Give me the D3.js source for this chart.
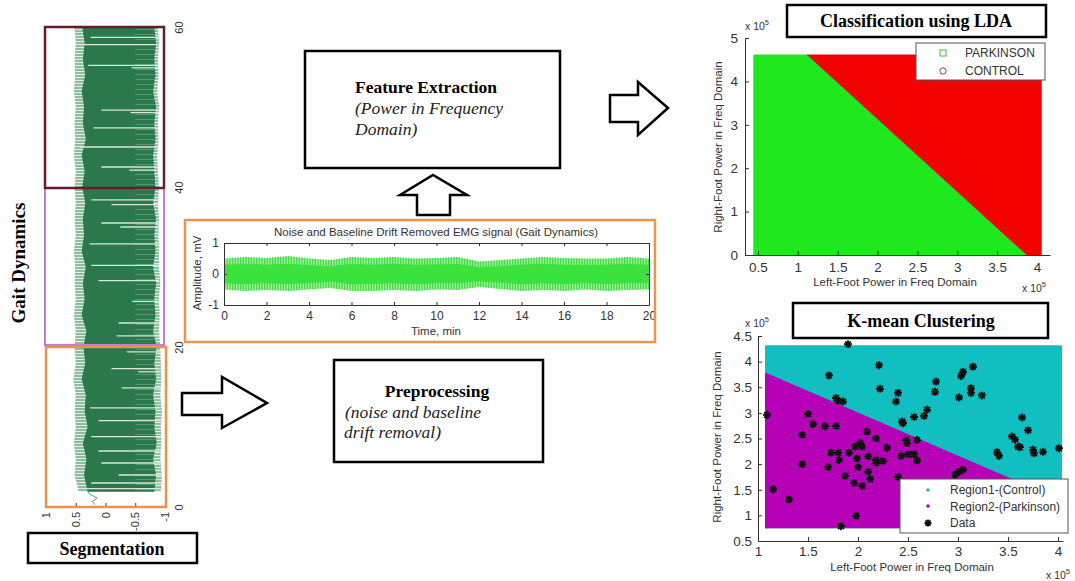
<!DOCTYPE html>
<html>
<head>
<meta charset="utf-8">
<script src="https://cdn.jsdelivr.net/npm/d3@7"></script>
<style>
    body { margin: 0; background: #fff; }
    svg { display: block; }
</style>
</head>
<body>
<div id="chart"></div>
<script>
// ---------- data ----------

// Segmentation panel: gait EMG envelope (minutes -> mV)
const segTimes   = [1.9, 4, 6, 8, 10, 12, 14, 16, 18, 20, 22, 24, 26, 28, 30, 32, 34, 36, 38, 40, 42, 44, 46, 48, 50, 52, 54, 56, 58, 60];
const segOuterHi = [0.45, 0.52, 0.5, 0.53, 0.5, 0.52, 0.5, 0.54, 0.5, 0.52, 0.5, 0.53, 0.5, 0.52, 0.51, 0.53, 0.5, 0.52, 0.5, 0.52, 0.5, 0.53, 0.51, 0.52, 0.5, 0.53, 0.51, 0.52, 0.5, 0.52];
const segInnerHi = [0.3, 0.36, 0.32, 0.38, 0.3, 0.35, 0.33, 0.4, 0.34, 0.37, 0.32, 0.4, 0.35, 0.38, 0.33, 0.4, 0.36, 0.38, 0.34, 0.39, 0.35, 0.4, 0.33, 0.38, 0.36, 0.4, 0.34, 0.38, 0.35, 0.39];
const segInnerLo = [-0.82, -0.85, -0.8, -0.86, -0.82, -0.84, -0.8, -0.85, -0.82, -0.86, -0.8, -0.84, -0.82, -0.85, -0.8, -0.84, -0.82, -0.85, -0.8, -0.84, -0.82, -0.8, -0.84, -0.82, -0.85, -0.8, -0.84, -0.82, -0.85, -0.82];
const segOuterLo = [-0.93, -0.95, -0.92, -0.94, -0.93, -0.95, -0.92, -0.94, -0.93, -0.92, -0.9, -0.91, -0.9, -0.92, -0.9, -0.9, -0.89, -0.9, -0.88, -0.9, -0.88, -0.87, -0.89, -0.88, -0.9, -0.87, -0.89, -0.88, -0.9, -0.88];
const segTailT   = [0.3, 0.7, 1.1, 1.5, 1.9];
const segTailAmp = [0.18, 0.22, 0.14, 0.24, 0.3];
// pale gaps in the trace: [minute, amplitude where the gap starts]
const segStripes = [[58.7, 0.25], [57.8, 0.4], [55.2, 0.29], [54.9, -0.44], [49.6, 0.07], [49.3, -0.42], [47.4, 0.2], [45.0, 0.43],
    [42.5, 0.07], [42.1, -0.4], [38.4, 0.24], [37.8, -0.1], [35.5, 0.07], [35.0, -0.25], [32.9, 0.27], [30.2, 0.24], [28.3, 0.12],
    [25.7, -0.45], [23.0, -0.22], [21.4, -0.19], [19.4, -0.36], [17.3, -0.1], [16.9, -0.55], [14.9, -0.27], [12.4, 0.26],
    [10.8, 0.12], [8.8, 0.24], [7.0, 0.12], [5.5, 0.07], [4.0, -0.22], [3.0, 0.24], [2.3, 0.4]];
const segTimeTicks = [0, 20, 40, 60];
const segAmpTicks  = [1, 0.5, 0, -0.5, -1];

// Noise and baseline drift removed EMG (minutes -> mV)
const emgTime   = [0, 1, 2, 3, 4, 5, 6, 7, 8, 9, 10, 11, 12, 13, 14, 15, 16, 17, 18, 19, 20];
const emgUpper  = [0.5, 0.55, 0.52, 0.58, 0.5, 0.45, 0.55, 0.52, 0.55, 0.5, 0.52, 0.55, 0.4, 0.45, 0.5, 0.55, 0.52, 0.5, 0.5, 0.55, 0.5];
const emgLower  = [-0.5, -0.55, -0.52, -0.55, -0.5, -0.45, -0.55, -0.55, -0.52, -0.55, -0.5, -0.52, -0.42, -0.48, -0.55, -0.52, -0.55, -0.5, -0.55, -0.52, -0.5];
const emgCoreHi = [0.3, 0.32, 0.3, 0.33, 0.28, 0.25, 0.32, 0.3, 0.33, 0.3, 0.31, 0.32, 0.22, 0.26, 0.3, 0.33, 0.3, 0.3, 0.3, 0.32, 0.3];
const emgCoreLo = [-0.3, -0.33, -0.3, -0.32, -0.3, -0.25, -0.33, -0.32, -0.3, -0.33, -0.3, -0.3, -0.24, -0.28, -0.33, -0.3, -0.33, -0.3, -0.32, -0.3, -0.3];
const emgXTicks = [0, 2, 4, 6, 8, 10, 12, 14, 16, 18, 20];
const emgYTicks = [-1, 0, 1];

// LDA decision regions (x1e5)
const ldaXTicks = [0.5, 1, 1.5, 2, 2.5, 3, 3.5, 4];
const ldaYTicks = [0, 1, 2, 3, 4, 5];
const ldaParkinson = [[0.45, 0], [0.45, 4.6], [1.12, 4.6], [3.87, 0]];
const ldaControl   = [[1.12, 4.6], [4.05, 4.6], [4.05, 0], [3.87, 0]];
const ldaLegend = ['PARKINSON', 'CONTROL'];

// K-means regions and data (x1e5)
const kmXTicks = [1, 1.5, 2, 2.5, 3, 3.5, 4];
const kmYTicks = [0.5, 1, 1.5, 2, 2.5, 3, 3.5, 4, 4.5];
const kmControl   = [[1.08, 0.75], [1.08, 4.3], [4.03, 4.3], [4.03, 0.75]];
const kmParkinson = [[1.08, 0.75], [1.08, 3.76], [4.03, 1.28], [4.03, 0.75]];
const kmX = [1.90, 2.21, 1.71, 2.22, 2.40, 2.38, 1.78, 1.80, 1.85, 2.44, 2.45, 2.56, 2.66, 2.69, 1.09, 1.50, 1.55, 1.67, 1.78, 1.44,
    2.09, 2.18, 2.02, 2.04, 1.97, 2.29, 2.48, 2.49, 2.59, 1.73, 1.80, 1.91, 1.99, 1.81, 2.10, 2.18, 2.18, 2.25, 2.43, 2.50,
    2.56, 2.59, 2.40, 1.44, 1.70, 2.00, 2.10, 1.87, 2.12, 1.96, 2.04, 1.15, 1.31, 1.98, 1.83, 3.15, 3.05, 3.03, 2.78, 2.77,
    3.01, 3.13, 3.13, 3.24, 3.64, 3.70, 3.54, 3.57, 3.60, 3.62, 3.39, 3.41, 3.75, 3.76, 3.85, 4.01, 3.01, 3.05, 2.97];
const kmY = [4.34, 3.93, 3.73, 3.47, 3.39, 3.22, 3.29, 3.23, 3.22, 2.83, 2.80, 2.92, 2.94, 3.06, 2.96, 2.98, 2.78, 2.74, 2.74, 2.57,
    2.63, 2.50, 2.41, 2.34, 2.34, 2.32, 2.47, 2.41, 2.47, 2.22, 2.22, 2.22, 2.11, 2.08, 2.15, 2.08, 2.02, 2.06, 2.16, 2.19,
    2.19, 2.07, 1.75, 2.00, 1.94, 1.94, 1.85, 1.77, 1.71, 1.63, 1.58, 1.51, 1.31, 0.99, 0.79, 3.90, 3.80, 3.72, 3.61, 3.41,
    3.30, 3.48, 3.39, 3.34, 2.91, 2.66, 2.54, 2.48, 2.34, 2.33, 2.23, 2.16, 2.28, 2.21, 2.24, 2.31, 1.85, 1.89, 1.79];
const kmLegend = ['Region1-(Control)', 'Region2-(Parkinson)', 'Data'];

// ---------- drawing ----------
const SANS = '"Liberation Sans", Arial, sans-serif';
const SERIF = '"Liberation Serif", "Times New Roman", serif';

const svg = d3.select('#chart').append('svg')
    .attr('width', 1075)
    .attr('height', 581);

const defs = svg.append('defs');

const fringe = defs.append('pattern').attr('id', 'segFringe')
    .attr('patternUnits', 'userSpaceOnUse').attr('width', 6).attr('height', 3);
fringe.append('rect').attr('width', 6).attr('height', 3).attr('fill', '#8dbd9d');
fringe.append('rect').attr('y', 2).attr('width', 6).attr('height', 1).attr('fill', '#e1eee5');

const hatch = defs.append('pattern').attr('id', 'segHatch')
    .attr('patternUnits', 'userSpaceOnUse').attr('width', 6).attr('height', 5);
hatch.append('rect').attr('y', 4).attr('width', 6).attr('height', 1).attr('fill', '#a9cfb6').attr('opacity', 0.35);

const emgLines = defs.append('pattern').attr('id', 'emgLines')
    .attr('patternUnits', 'userSpaceOnUse').attr('width', 1.6).attr('height', 4);
emgLines.append('rect').attr('width', 1.1).attr('height', 4).attr('fill', '#2fdc2f');

function box(x, y, w, h, color, sw) {
    svg.append('rect')
        .attr('x', x).attr('y', y).attr('width', w).attr('height', h)
        .attr('fill', 'none').attr('stroke', color).attr('stroke-width', sw);
}

function arrow(points) {
    svg.append('polygon')
        .attr('points', points.map(p => p.join(',')).join(' '))
        .attr('fill', '#fff').attr('stroke', '#000').attr('stroke-width', 2.5)
        .attr('stroke-linejoin', 'miter');
}

function styleAxis(g, size) {
    g.attr('font-family', SANS).attr('font-size', size);
    g.selectAll('text').attr('fill', '#333');
    g.selectAll('line, path').attr('stroke', '#333');
}

function sciLabel(x, y) {
    const t = svg.append('text')
        .attr('x', x).attr('y', y)
        .attr('font-family', SANS).attr('font-size', 10.5).attr('fill', '#333')
        .text('x 10');
    t.append('tspan').attr('dy', -5).attr('font-size', 7.5).text('5');
}

function asterisk(r) {
    const k = r * 0.72;
    return `M${-r},0H${r}M0,${-r}V${r}M${-k},${-k}L${k},${k}M${-k},${k}L${k},${-k}`;
}

// ----- Segmentation (rotated gait trace) -----
function drawSegmentation() {
    const amp = d3.scaleLinear().domain([1, -1]).range([46, 165]);
    const time = d3.scaleLinear().domain([0, 60]).range([507, 27]);
    const rows = segTimes.map((t, i) => ({
        t, oh: segOuterHi[i], ih: segInnerHi[i], il: segInnerLo[i], ol: segOuterLo[i]
    }));
    const g = svg.append('g');

    g.append('path').datum(rows)
        .attr('d', d3.area().y(d => time(d.t)).x0(d => amp(d.oh)).x1(d => amp(d.ol)))
        .attr('fill', 'url(#segFringe)');
    g.append('path').datum(rows)
        .attr('d', d3.area().y(d => time(d.t)).x0(d => amp(d.ih)).x1(d => amp(d.il)))
        .attr('fill', '#2a784b');
    g.append('path').datum(rows)
        .attr('d', d3.area().y(d => time(d.t)).x0(() => amp(-0.5)).x1(d => amp(d.ol)))
        .attr('fill', 'url(#segHatch)');

    const bis = d3.bisector(d => d.t).left;
    g.selectAll('line.stripe')
        .data(segStripes)
        .join('line')
        .attr('class', 'stripe')
        .attr('x1', d => amp(d[1]))
        .attr('x2', d => amp(rows[Math.min(bis(rows, d[0]), rows.length - 1)].ol))
        .attr('y1', d => time(d[0]))
        .attr('y2', d => time(d[0]))
        .attr('stroke', '#d3e7da')
        .attr('stroke-width', 1.3);

    g.append('path')
        .datum(segTailT.map((t, i) => [t, segTailAmp[i]]))
        .attr('d', d3.line().x(d => amp(d[1])).y(d => time(d[0])))
        .attr('fill', 'none').attr('stroke', '#5f9c74').attr('stroke-width', 1);

    // amplitude axis (bottom) and time axis (right)
    const ax = g.append('g')
        .attr('transform', 'translate(0,507)')
        .call(d3.axisBottom(amp).tickValues(segAmpTicks).tickSize(-4).tickFormat(d => String(d)));
    ax.select('.domain').remove();
    styleAxis(ax, 11);
    ax.selectAll('text')
        .attr('x', -5).attr('y', 0).attr('dy', '0.32em')
        .attr('text-anchor', 'end')
        .attr('transform', 'rotate(-90)');

    const ay = g.append('g')
        .attr('transform', 'translate(165,0)')
        .call(d3.axisRight(time).tickValues(segTimeTicks).tickSize(-4).tickFormat(d => String(d)));
    ay.select('.domain').remove();
    styleAxis(ay, 11);
    ay.selectAll('text')
        .attr('x', 0).attr('y', 18).attr('dy', 0)
        .attr('text-anchor', 'middle')
        .attr('transform', 'rotate(-90)');

    box(45, 188, 119, 157, '#c27fcd', 2);
    box(46, 347, 120, 160, '#e8944c', 2.5);
    box(45, 27, 119, 161, '#6a1b2b', 2.5);

    svg.append('text')
        .attr('transform', 'translate(25,263) rotate(-90)')
        .attr('text-anchor', 'middle')
        .attr('font-family', SERIF).attr('font-weight', 'bold').attr('font-size', 19)
        .text('Gait Dynamics');

    box(28, 533, 169, 30, '#000', 2.5);
    svg.append('text')
        .attr('x', 112).attr('y', 555)
        .attr('text-anchor', 'middle')
        .attr('font-family', SERIF).attr('font-weight', 'bold').attr('font-size', 18)
        .text('Segmentation');
}

// ----- Preprocessed EMG -----
function drawEmg() {
    const x = d3.scaleLinear().domain([0, 20]).range([224, 649]);
    const y = d3.scaleLinear().domain([-1, 1]).range([305, 243]);
    const g = svg.append('g');

    const rows = emgTime.map((t, i) => ({ t, hi: emgUpper[i], lo: emgLower[i], ch: emgCoreHi[i], cl: emgCoreLo[i] }));
    g.append('path').datum(rows)
        .attr('d', d3.area().x(d => x(d.t)).y0(d => y(d.lo)).y1(d => y(d.hi)))
        .attr('fill', 'url(#emgLines)');
    g.append('path').datum(rows)
        .attr('d', d3.area().x(d => x(d.t)).y0(d => y(d.cl)).y1(d => y(d.ch)))
        .attr('fill', '#3ce23c');

    const fmt = d => String(d);
    const bx = g.append('g').attr('transform', 'translate(0,305)')
        .call(d3.axisBottom(x).tickValues(emgXTicks).tickSizeInner(-3).tickSizeOuter(0).tickPadding(6).tickFormat(fmt));
    const tx = g.append('g').attr('transform', 'translate(0,243)')
        .call(d3.axisTop(x).tickValues(emgXTicks).tickSizeInner(-3).tickSizeOuter(0).tickFormat(''));
    const ly = g.append('g').attr('transform', 'translate(224,0)')
        .call(d3.axisLeft(y).tickValues(emgYTicks).tickSizeInner(-3).tickSizeOuter(0).tickPadding(5).tickFormat(fmt));
    const ry = g.append('g').attr('transform', 'translate(649,0)')
        .call(d3.axisRight(y).tickValues(emgYTicks).tickSizeInner(-3).tickSizeOuter(0).tickFormat(''));
    [bx, tx, ly, ry].forEach(a => styleAxis(a, 12));

    g.append('text')
        .attr('x', 436).attr('y', 236)
        .attr('text-anchor', 'middle')
        .attr('font-family', SANS).attr('font-size', 11.5).attr('fill', '#333')
        .text('Noise and Baseline Drift Removed EMG signal (Gait Dynamics)');
    g.append('text')
        .attr('x', 436).attr('y', 335)
        .attr('text-anchor', 'middle')
        .attr('font-family', SANS).attr('font-size', 11.5).attr('fill', '#333')
        .text('Time, min');
    g.append('text')
        .attr('transform', 'translate(201,273) rotate(-90)')
        .attr('text-anchor', 'middle')
        .attr('font-family', SANS).attr('font-size', 11.5).attr('fill', '#333')
        .text('Amplitude, mV');

    box(185, 220, 470, 122, '#e8954e', 2.5);
}

// ----- flow boxes and arrows -----
function drawFlow() {
    box(305, 51, 255, 117, '#000', 2.5);
    const fe = svg.append('text')
        .attr('font-family', SERIF).attr('font-size', 17.5);
    fe.append('tspan').attr('x', 355).attr('y', 93).attr('font-weight', 'bold').text('Feature Extraction');
    fe.append('tspan').attr('x', 355).attr('y', 114).attr('font-style', 'italic').attr('fill', '#222').text('(Power in Frequency');
    fe.append('tspan').attr('x', 355).attr('y', 135).attr('font-style', 'italic').attr('fill', '#222').text('Domain)');

    box(334, 360, 209, 102, '#000', 2.5);
    svg.append('text')
        .attr('x', 437).attr('y', 397)
        .attr('text-anchor', 'middle')
        .attr('font-family', SERIF).attr('font-weight', 'bold').attr('font-size', 17.5)
        .text('Preprocessing');
    const pp = svg.append('text')
        .attr('font-family', SERIF).attr('font-size', 17.5).attr('font-style', 'italic').attr('fill', '#222');
    pp.append('tspan').attr('x', 345).attr('y', 418).text('(noise and baseline');
    pp.append('tspan').attr('x', 344).attr('y', 438).text('drift removal)');

    arrow([[182, 393], [222, 393], [222, 377], [267, 403], [222, 428], [222, 415], [182, 415]]);
    arrow([[417, 215], [417, 195], [400, 195], [433, 175], [467, 195], [450, 195], [450, 215]]);
    arrow([[610, 95], [638, 95], [638, 82], [668, 108], [638, 135], [638, 122], [610, 122]]);
}

// ----- LDA classification -----
function drawLda() {
    const x = d3.scaleLinear().domain([0.337, 4.163]).range([745, 1050]);
    const y = d3.scaleLinear().domain([0, 5]).range([255, 38]);
    const g = svg.append('g');
    const line = d3.line().x(d => x(d[0])).y(d => y(d[1]));

    g.append('path').datum(ldaParkinson).attr('d', line).attr('fill', '#1fe81f')
        .attr('stroke', '#1fe81f').attr('stroke-width', 1.5).attr('stroke-linejoin', 'round');
    g.append('path').datum(ldaControl).attr('d', line).attr('fill', '#f30000')
        .attr('stroke', '#f30000').attr('stroke-width', 1.5).attr('stroke-linejoin', 'round');

    const fmt = d => String(d);
    const bx = g.append('g').attr('transform', 'translate(0,255)')
        .call(d3.axisBottom(x).tickValues(ldaXTicks).tickSizeInner(-4).tickSizeOuter(0).tickPadding(7).tickFormat(fmt));
    const ly = g.append('g').attr('transform', 'translate(745,0)')
        .call(d3.axisLeft(y).tickValues(ldaYTicks).tickSizeInner(-4).tickSizeOuter(0).tickPadding(7).tickFormat(fmt));
    [bx, ly].forEach(a => styleAxis(a, 13.5));

    g.append('text')
        .attr('x', 895).attr('y', 286)
        .attr('text-anchor', 'middle')
        .attr('font-family', SANS).attr('font-size', 11.5).attr('fill', '#333')
        .text('Left-Foot Power in Freq Domain');
    g.append('text')
        .attr('transform', 'translate(722,147) rotate(-90)')
        .attr('text-anchor', 'middle')
        .attr('font-family', SANS).attr('font-size', 11.5).attr('fill', '#333')
        .text('Right-Foot Power in Freq Domain');
    sciLabel(745, 30);
    sciLabel(1022, 292);

    // legend
    const lg = g.append('g');
    lg.append('rect').attr('x', 916).attr('y', 43).attr('width', 129).attr('height', 37)
        .attr('fill', '#fff').attr('stroke', '#555').attr('stroke-width', 1);
    lg.append('rect').attr('x', 940).attr('y', 50).attr('width', 6).attr('height', 6)
        .attr('fill', 'none').attr('stroke', '#39c739').attr('stroke-width', 1);
    lg.append('circle').attr('cx', 943).attr('cy', 71).attr('r', 3.2)
        .attr('fill', 'none').attr('stroke', '#9a4040').attr('stroke-width', 1);
    lg.selectAll('text.leg').data(ldaLegend).join('text')
        .attr('class', 'leg')
        .attr('x', 965).attr('y', (d, i) => 57 + i * 18)
        .attr('font-family', SANS).attr('font-size', 12).attr('fill', '#333')
        .text(d => d);

    box(787, 5, 259, 32, '#000', 2.5);
    svg.append('text')
        .attr('x', 916).attr('y', 27)
        .attr('text-anchor', 'middle')
        .attr('font-family', SERIF).attr('font-weight', 'bold').attr('font-size', 18)
        .text('Classification using LDA');
}

// ----- K-means clustering -----
function drawKmeans() {
    const x = d3.scaleLinear().domain([1, 4.05]).range([758, 1063]);
    const y = d3.scaleLinear().domain([0.5, 4.5]).range([541, 336]);
    const g = svg.append('g');
    const line = d3.line().x(d => x(d[0])).y(d => y(d[1]));

    g.append('path').datum(kmControl).attr('d', line).attr('fill', '#12bfc0')
        .attr('stroke', '#12bfc0').attr('stroke-width', 2).attr('stroke-linejoin', 'round');
    g.append('path').datum(kmParkinson).attr('d', line).attr('fill', '#b600b8')
        .attr('stroke', '#b600b8').attr('stroke-width', 2).attr('stroke-linejoin', 'round');

    g.selectAll('path.pt')
        .data(kmX.map((v, i) => [v, kmY[i]]))
        .join('path')
        .attr('class', 'pt')
        .attr('transform', d => `translate(${x(d[0])},${y(d[1])})`)
        .attr('d', asterisk(4))
        .attr('stroke', '#111').attr('stroke-width', 1.8).attr('fill', 'none');

    const fmt = d => String(d);
    const bx = g.append('g').attr('transform', 'translate(0,541)')
        .call(d3.axisBottom(x).tickValues(kmXTicks).tickSizeInner(-4).tickSizeOuter(0).tickPadding(5).tickFormat(fmt));
    const ly = g.append('g').attr('transform', 'translate(758,0)')
        .call(d3.axisLeft(y).tickValues(kmYTicks).tickSizeInner(-4).tickSizeOuter(0).tickPadding(6).tickFormat(fmt));
    [bx, ly].forEach(a => styleAxis(a, 13.5));

    g.append('text')
        .attr('x', 912).attr('y', 571)
        .attr('text-anchor', 'middle')
        .attr('font-family', SANS).attr('font-size', 11.5).attr('fill', '#333')
        .text('Left-Foot Power in Freq Domain');
    g.append('text')
        .attr('transform', 'translate(721,437) rotate(-90)')
        .attr('text-anchor', 'middle')
        .attr('font-family', SANS).attr('font-size', 11.5).attr('fill', '#333')
        .text('Right-Foot Power in Freq Domain');
    sciLabel(745, 327);
    sciLabel(1046, 579);

    // legend
    const lg = g.append('g');
    lg.append('rect').attr('x', 900).attr('y', 479).attr('width', 168).attr('height', 54)
        .attr('fill', '#fff').attr('stroke', '#555').attr('stroke-width', 1);
    lg.append('circle').attr('cx', 928).attr('cy', 490).attr('r', 1.8).attr('fill', '#12bfc0');
    lg.append('circle').attr('cx', 928).attr('cy', 506).attr('r', 1.8).attr('fill', '#b600b8');
    lg.append('path').attr('transform', 'translate(928,523)').attr('d', asterisk(3.5))
        .attr('stroke', '#111').attr('stroke-width', 1.8);
    lg.selectAll('text.leg').data(kmLegend).join('text')
        .attr('class', 'leg')
        .attr('x', 950).attr('y', (d, i) => 494 + i * 16.5)
        .attr('font-family', SANS).attr('font-size', 12).attr('fill', '#333')
        .text(d => d);

    box(793, 303, 255, 35, '#000', 2.5);
    svg.append('text')
        .attr('x', 921).attr('y', 327)
        .attr('text-anchor', 'middle')
        .attr('font-family', SERIF).attr('font-weight', 'bold').attr('font-size', 18)
        .text('K-mean Clustering');
}

drawSegmentation();
drawEmg();
drawFlow();
drawLda();
drawKmeans();
</script>
</body>
</html>
